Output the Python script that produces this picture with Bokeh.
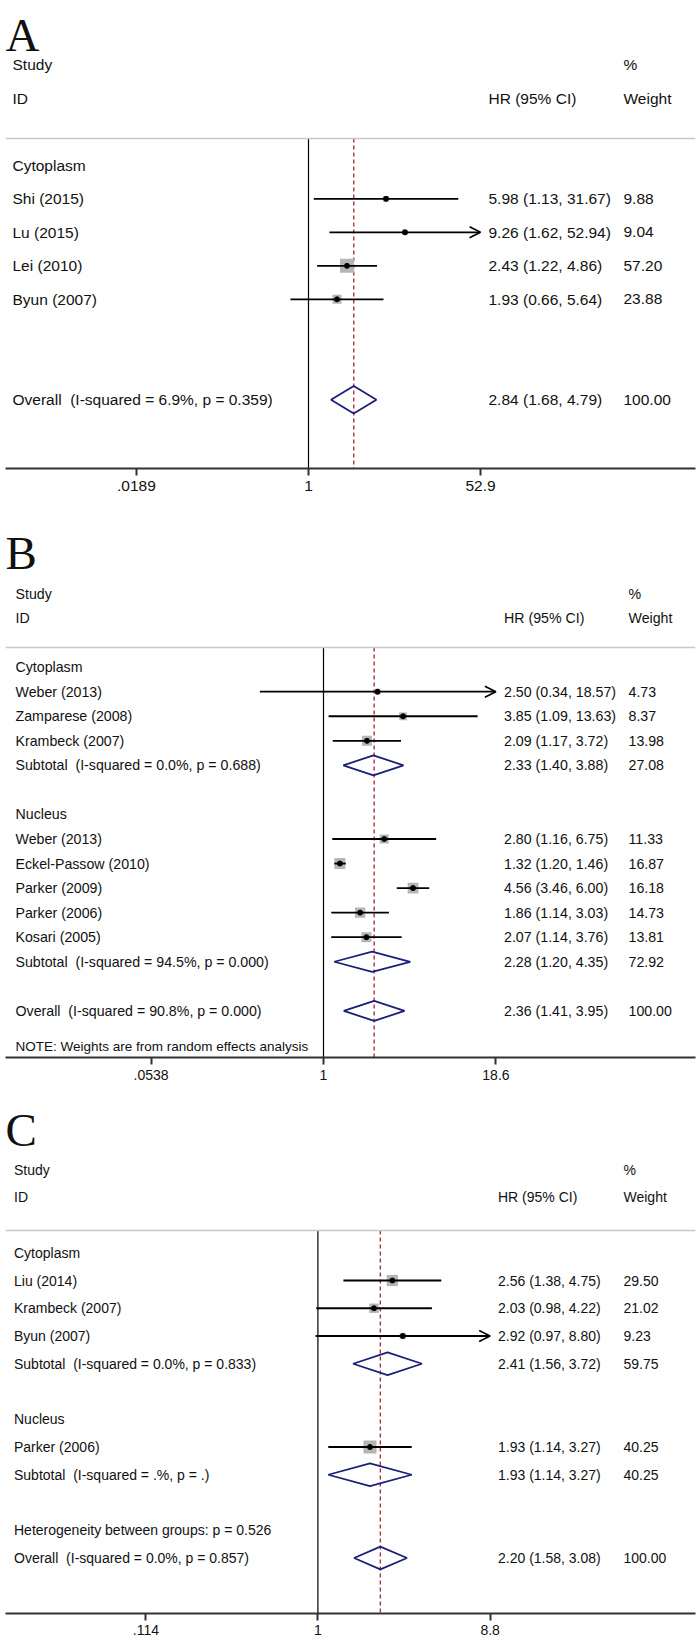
import math
from bokeh.plotting import figure
from bokeh.models import Range1d, FixedTicker, Label, Span, Arrow, OpenHead, ColumnDataSource
from bokeh.layouts import column
from bokeh.embed import file_html
from bokeh.resources import INLINE

# ---------------- data ----------------
# Panel A
A_group = ["Cytoplasm"]
A_study = ["Shi (2015)", "Lu (2015)", "Lei (2010)", "Byun (2007)"]
A_hr = [5.98, 9.26, 2.43, 1.93]
A_lo = [1.13, 1.62, 1.22, 0.66]
A_hi = [31.67, 52.94, 4.86, 5.64]
A_wt = [9.88, 9.04, 57.20, 23.88]
A_pool_label = ["Overall  (I-squared = 6.9%, p = 0.359)"]
A_pool_hr = [2.84]
A_pool_lo = [1.68]
A_pool_hi = [4.79]
A_pool_wt = [100.00]
A_notes = []
A_ticks = [0.0189, 1, 52.9]
A_tick_labels = [".0189", "1", "52.9"]

# Panel B
B_group = ["Cytoplasm", "Nucleus"]
B_study = ["Weber (2013)", "Zamparese (2008)", "Krambeck (2007)",
           "Weber (2013)", "Eckel-Passow (2010)", "Parker (2009)", "Parker (2006)", "Kosari (2005)"]
B_hr = [2.50, 3.85, 2.09, 2.80, 1.32, 4.56, 1.86, 2.07]
B_lo = [0.34, 1.09, 1.17, 1.16, 1.20, 3.46, 1.14, 1.14]
B_hi = [18.57, 13.63, 3.72, 6.75, 1.46, 6.00, 3.03, 3.76]
B_wt = [4.73, 8.37, 13.98, 11.33, 16.87, 16.18, 14.73, 13.81]
B_pool_label = ["Subtotal  (I-squared = 0.0%, p = 0.688)",
                "Subtotal  (I-squared = 94.5%, p = 0.000)",
                "Overall  (I-squared = 90.8%, p = 0.000)"]
B_pool_hr = [2.33, 2.28, 2.36]
B_pool_lo = [1.40, 1.20, 1.41]
B_pool_hi = [3.88, 4.35, 3.95]
B_pool_wt = [27.08, 72.92, 100.00]
B_notes = ["NOTE: Weights are from random effects analysis"]
B_ticks = [0.0538, 1, 18.6]
B_tick_labels = [".0538", "1", "18.6"]

# Panel C
C_group = ["Cytoplasm", "Nucleus"]
C_study = ["Liu (2014)", "Krambeck (2007)", "Byun (2007)", "Parker (2006)"]
C_hr = [2.56, 2.03, 2.92, 1.93]
C_lo = [1.38, 0.98, 0.97, 1.14]
C_hi = [4.75, 4.22, 8.80, 3.27]
C_wt = [29.50, 21.02, 9.23, 40.25]
C_pool_label = ["Subtotal  (I-squared = 0.0%, p = 0.833)",
                "Subtotal  (I-squared = .%, p = .)",
                "Overall  (I-squared = 0.0%, p = 0.857)"]
C_pool_hr = [2.41, 1.93, 2.20]
C_pool_lo = [1.56, 1.14, 1.58]
C_pool_hi = [3.72, 3.27, 3.08]
C_pool_wt = [59.75, 40.25, 100.00]
C_notes = ["Heterogeneity between groups: p = 0.526"]
C_ticks = [0.114, 1, 8.8]
C_tick_labels = [".114", "1", "8.8"]

# ---------------- layout / style ----------------
FONT = "Liberation Sans"
SERIF = "Liberation Serif"
TXT = "#111111"
SQUARE = "#b5b5b5"
NAVY = "#1b1f7a"
REDLINE = "#a6363c"
LEFT = 5
FRAME_W = 690
RIGHT = 5

PANELS = [
    dict(letter="A", top=0, fig_h=515, row0=165, dy=33.5, axis_row=9.05,
         x_one=308, px_per_ln=43.35, font=15.5, note_font=15.5,
         x_text=12, x_hr=488, x_wt=623, sq_k=1.85, letter_base=35,
         group_rows=[0], study_rows=[1, 2, 3, 4], pool_rows=[7], note_rows=[],
         tick_len=7, standoff=5, tick_font=15.5,
         group=A_group, study=A_study, hr=A_hr, lo=A_lo, hi=A_hi, wt=A_wt,
         pl=A_pool_label, phr=A_pool_hr, plo=A_pool_lo, phi=A_pool_hi, pwt=A_pool_wt,
         notes=A_notes, ticks=A_ticks, tick_labels=A_tick_labels),
    dict(letter="B", top=515, fig_h=575, row0=667, dy=24.55, axis_row=15.9,
         x_one=323, px_per_ln=59.0, font=14.2, note_font=13.5,
         x_text=15, x_hr=503.5, x_wt=628, sq_k=2.68, letter_base=553,
         group_rows=[0, 6], study_rows=[1, 2, 3, 7, 8, 9, 10, 11], pool_rows=[4, 12, 14],
         note_rows=[15.44],
         tick_len=7, standoff=5, tick_font=14,
         group=B_group, study=B_study, hr=B_hr, lo=B_lo, hi=B_hi, wt=B_wt,
         pl=B_pool_label, phr=B_pool_hr, plo=B_pool_lo, phi=B_pool_hi, pwt=B_pool_wt,
         notes=B_notes, ticks=B_ticks, tick_labels=B_tick_labels),
    dict(letter="C", top=1090, fig_h=551, row0=1252, dy=27.75, axis_row=13,
         x_one=317.4, px_per_ln=79.2, font=14, note_font=14,
         x_text=13.5, x_hr=497.5, x_wt=623, sq_k=2.05, letter_base=1129,
         group_rows=[0, 6], study_rows=[1, 2, 3, 7], pool_rows=[4, 8, 11], note_rows=[10],
         tick_len=7, standoff=4, tick_font=14,
         group=C_group, study=C_study, hr=C_hr, lo=C_lo, hi=C_hi, wt=C_wt,
         pl=C_pool_label, phr=C_pool_hr, plo=C_pool_lo, phi=C_pool_hi, pwt=C_pool_wt,
         notes=C_notes, ticks=C_ticks, tick_labels=C_tick_labels),
]


def keep_spaces(s):
    # keep Stata's double spacing visible (SVG collapses runs of spaces)
    return s.replace("  ", " \u00a0")


def build(cfg):
    frame_h = int(round(cfg["row0"] + cfg["axis_row"] * cfg["dy"] - cfg["top"]))
    y_bottom = cfg["axis_row"]
    y_top = y_bottom - frame_h / cfg["dy"]
    ln_left = (LEFT - cfg["x_one"]) / cfg["px_per_ln"]
    ln_right = (LEFT + FRAME_W - cfg["x_one"]) / cfg["px_per_ln"]

    def xd(px):
        # page pixel column -> data value on the log axis
        return math.exp((px - cfg["x_one"]) / cfg["px_per_ln"])

    def yd(py):
        return (py - cfg["row0"]) / cfg["dy"]

    p = figure(frame_width=FRAME_W, frame_height=frame_h, x_axis_type="log",
               x_range=Range1d(math.exp(ln_left), math.exp(ln_right)),
               y_range=Range1d(start=y_bottom, end=y_top),
               output_backend="svg", toolbar_location=None, title=None,
               y_axis_location=None,
               min_border_left=LEFT, min_border_right=RIGHT, min_border_top=0,
               min_border_bottom=cfg["fig_h"] - frame_h,
               background_fill_color="white", border_fill_color="white",
               outline_line_color=None)
    p.xgrid.visible = False
    p.ygrid.visible = False

    def add_text(xpx, row, text, size, font=FONT, baseline="middle"):
        p.add_layout(Label(x=xd(xpx), y=row, x_units="data", y_units="data",
                           text=keep_spaces(text),
                           text_font=font, text_font_size=f"{size}px", text_color=TXT,
                           text_baseline=baseline, text_align="left"))

    ax = p.xaxis[0]
    ax.ticker = FixedTicker(ticks=cfg["ticks"], minor_ticks=[])
    ax.major_label_overrides = {t: l for t, l in zip(cfg["ticks"], cfg["tick_labels"])}
    ax.axis_line_color = "#333333"
    ax.axis_line_width = 2
    ax.major_tick_line_color = "#333333"
    ax.major_tick_line_width = 2
    ax.major_tick_out = cfg["tick_len"]
    ax.major_tick_in = 0
    ax.minor_tick_line_color = None
    ax.major_label_standoff = cfg["standoff"]
    ax.major_label_text_font = FONT
    ax.major_label_text_font_size = f"{cfg['tick_font']}px"
    ax.major_label_text_color = TXT

    head_row = -0.8
    p.add_layout(Span(location=head_row, dimension="width", line_color="#c8c8c8", line_width=1.5))
    p.segment(x0=[1], y0=[head_row], x1=[1], y1=[y_bottom], line_color="black", line_width=1.2)
    ov = cfg["phr"][-1]
    p.segment(x0=[ov], y0=[head_row], x1=[ov], y1=[y_bottom], line_color=REDLINE,
              line_width=1.4, line_dash="4 3")

    add_text(cfg["x_text"], -3, "Study", cfg["font"])
    add_text(cfg["x_text"], -2, "ID", cfg["font"])
    add_text(cfg["x_hr"], -2, "HR (95% CI)", cfg["font"])
    add_text(cfg["x_wt"], -3, "%", cfg["font"])
    add_text(cfg["x_wt"], -2, "Weight", cfg["font"])

    add_text(5, yd(cfg["letter_base"]), cfg["letter"], 47, font=SERIF, baseline="alphabetic")

    for g, r in zip(cfg["group"], cfg["group_rows"]):
        add_text(cfg["x_text"], r, g, cfg["font"])

    tmin, tmax = cfg["ticks"][0], cfg["ticks"][-1]
    rows = cfg["study_rows"]
    hi_c = [min(h, tmax) for h in cfg["hi"]]
    lo_c = [max(l, tmin) for l in cfg["lo"]]
    src = ColumnDataSource(dict(hr=cfg["hr"], lo=lo_c, hi=hi_c, row=rows,
                                sz=[cfg["sq_k"] * math.sqrt(w) for w in cfg["wt"]]))
    p.scatter(x="hr", y="row", size="sz", marker="square", fill_color=SQUARE,
              line_color=None, source=src)
    for h, hc, lc, r in zip(cfg["hi"], hi_c, lo_c, rows):
        if h >= tmax * 0.995:
            p.add_layout(Arrow(end=OpenHead(size=11, line_width=1.6, line_color="black"),
                               x_start=lc, y_start=r, x_end=hc, y_end=r,
                               line_color="black", line_width=1.8))
        else:
            p.segment(x0=[lc], y0=[r], x1=[hc], y1=[r], line_color="black", line_width=1.8)
    p.scatter(x="hr", y="row", size=5, marker="circle", fill_color="black",
              line_color="black", source=src)

    for s, h, l, hh, w, r in zip(cfg["study"], cfg["hr"], cfg["lo"], cfg["hi"], cfg["wt"], rows):
        add_text(cfg["x_text"], r, s, cfg["font"])
        add_text(cfg["x_hr"], r, f"{h:.2f} ({l:.2f}, {hh:.2f})", cfg["font"])
        add_text(cfg["x_wt"], r, f"{w:.2f}", cfg["font"])

    half = 0.41
    xs, ys = [], []
    for est, l, h, r in zip(cfg["phr"], cfg["plo"], cfg["phi"], cfg["pool_rows"]):
        xs.append([l, est, h, est])
        ys.append([r, r - half, r, r + half])
    p.patches(xs=xs, ys=ys, fill_alpha=0, line_color=NAVY, line_width=1.8)
    for lab, est, l, h, w, r in zip(cfg["pl"], cfg["phr"], cfg["plo"], cfg["phi"],
                                    cfg["pwt"], cfg["pool_rows"]):
        add_text(cfg["x_text"], r, lab, cfg["font"])
        add_text(cfg["x_hr"], r, f"{est:.2f} ({l:.2f}, {h:.2f})", cfg["font"])
        add_text(cfg["x_wt"], r, f"{w:.2f}", cfg["font"])

    for n, r in zip(cfg["notes"], cfg["note_rows"]):
        add_text(cfg["x_text"], r, n, cfg["note_font"])
    return p


figs = [build(c) for c in PANELS]
layout = column(*figs, spacing=0)
open("out.html", "w").write(file_html(layout, INLINE))
